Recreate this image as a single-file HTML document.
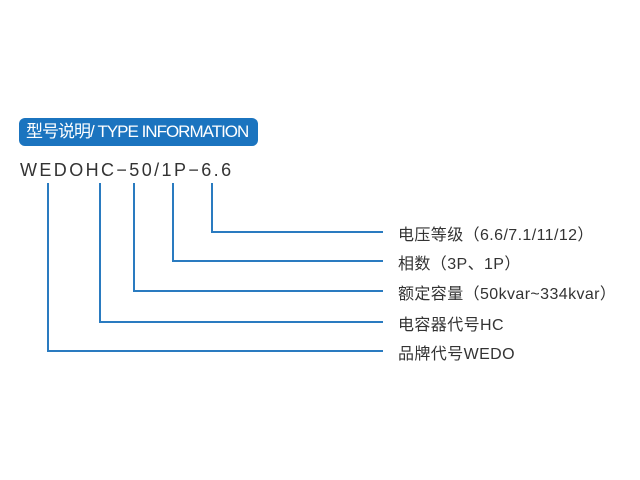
<!DOCTYPE html>
<html><head><meta charset="utf-8"><style>
body{margin:0;width:640px;height:480px;background:#fff;position:relative;overflow:hidden;font-family:"Liberation Sans","Noto Sans CJK SC",sans-serif}
.badge{position:absolute;left:19px;top:118px;width:239px;height:28px;background:#1b74bf;border-radius:6px;color:#fff;font-size:17px;line-height:28px;padding-left:7px;box-sizing:border-box;white-space:nowrap;letter-spacing:-1px}
.code{position:absolute;left:20px;top:160px;font-size:18px;letter-spacing:2.4px;color:#333;white-space:nowrap}
.l{position:absolute;left:398px;font-size:16px;letter-spacing:0.4px;color:#333;white-space:nowrap}
</style></head><body>
<div class="badge">型号说明/ TYPE INFORMATION</div>
<div class="code">WEDOHC−50/1P−6.6</div>
<svg width="640" height="480" style="position:absolute;left:0;top:0" fill="none" stroke="#2a7bc0" stroke-width="2">
<polyline points="212,183 212,232 383,232"/>
<polyline points="173,183 173,261 383,261"/>
<polyline points="134,183 134,291 383,291"/>
<polyline points="100,183 100,322 383,322"/>
<polyline points="48,183 48,351 383,351"/>
</svg>
<div class="l" style="top:221px">电压等级（6.6/7.1/11/12）</div>
<div class="l" style="top:250px">相数（3P、1P）</div>
<div class="l" style="top:280px">额定容量（50kvar~334kvar）</div>
<div class="l" style="top:311px">电容器代号HC</div>
<div class="l" style="top:340px">品牌代号WEDO</div>
</body></html>
